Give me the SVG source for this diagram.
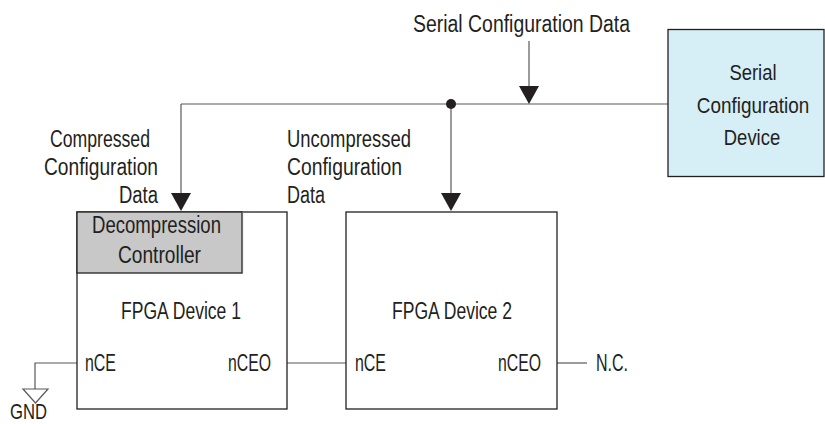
<svg xmlns="http://www.w3.org/2000/svg" width="825" height="424" viewBox="0 0 825 424">
<style>
text{font-family:"Liberation Sans",Arial,sans-serif;font-size:23.5px;fill:#231f20}
.mid{text-anchor:middle}
.dev{font-size:22px;text-anchor:middle}
.box{fill:#fff;stroke:#231f20;stroke-width:1.3}
.wire{fill:none;stroke:#58595b;stroke-width:1.2}
.arr{fill:#231f20}
</style>
<rect width="825" height="424" fill="#fff"/>
<g id="connectors">
  <path class="wire" d="M181,104 H668"/>
  <path class="wire" d="M181,104 V194"/>
  <polygon class="arr" points="171,193 191,193 181,211"/>
  <path class="wire" d="M451,104 V194"/>
  <polygon class="arr" points="441,193 461,193 451,211"/>
  <circle cx="451" cy="104" r="5" fill="#231f20"/>
  <path class="wire" d="M529,41 V87"/>
  <polygon class="arr" points="519,86 539,86 529,104"/>
  <path class="wire" d="M287,363 H346"/>
  <path class="wire" d="M557,363 H587"/>
  <path class="wire" d="M77,363 H35 V389"/>
  <polygon points="23,389 48,389 35.5,403" fill="#fff" stroke="#58595b" stroke-width="1.2"/>
</g>
<g id="label-serial-data">
  <text x="413" y="32" textLength="217" lengthAdjust="spacingAndGlyphs">Serial Configuration Data</text>
</g>
<g id="label-compressed">
  <text x="50" y="147" textLength="100" lengthAdjust="spacingAndGlyphs">Compressed</text>
  <text x="44" y="175" textLength="114" lengthAdjust="spacingAndGlyphs">Configuration</text>
  <text x="119" y="203" textLength="39" lengthAdjust="spacingAndGlyphs">Data</text>
</g>
<g id="label-uncompressed">
  <text x="287" y="147" textLength="124" lengthAdjust="spacingAndGlyphs">Uncompressed</text>
  <text x="287" y="175" textLength="115" lengthAdjust="spacingAndGlyphs">Configuration</text>
  <text x="287" y="203" textLength="38" lengthAdjust="spacingAndGlyphs">Data</text>
</g>
<g id="serial-config-device">
  <rect x="668" y="29.5" width="156" height="147" fill="#d6eef6" stroke="#231f20" stroke-width="1.3"/>
  <text class="dev" transform="translate(753,80) scale(0.84,1)">Serial</text>
  <text class="dev" transform="translate(753,113) scale(0.86,1)">Configuration</text>
  <text class="dev" transform="translate(752,145) scale(0.84,1)">Device</text>
</g>
<g id="fpga1">
  <rect class="box" x="77" y="212" width="210" height="197"/>
  <rect x="77" y="212" width="165" height="61" fill="#c8c8c8" stroke="#231f20" stroke-width="1.3"/>
  <line x1="242.5" y1="212" x2="242.5" y2="273.5" stroke="#6d6e71" stroke-width="1.2"/>
  <text x="92" y="233" textLength="129" lengthAdjust="spacingAndGlyphs">Decompression</text>
  <text x="118" y="263" textLength="83" lengthAdjust="spacingAndGlyphs">Controller</text>
  <text x="121" y="319" textLength="120" lengthAdjust="spacingAndGlyphs">FPGA Device 1</text>
  <text x="85" y="371" textLength="31" lengthAdjust="spacingAndGlyphs">nCE</text>
  <text x="228" y="371" textLength="43" lengthAdjust="spacingAndGlyphs">nCEO</text>
</g>
<g id="fpga2">
  <rect class="box" x="346" y="212" width="211" height="197"/>
  <text x="392" y="319" textLength="120" lengthAdjust="spacingAndGlyphs">FPGA Device 2</text>
  <text x="355" y="371" textLength="31" lengthAdjust="spacingAndGlyphs">nCE</text>
  <text x="498" y="371" textLength="43" lengthAdjust="spacingAndGlyphs">nCEO</text>
</g>
<g id="nc">
  <text x="596" y="371" textLength="32" lengthAdjust="spacingAndGlyphs">N.C.</text>
</g>
<g id="gnd">
  <text x="10" y="419" textLength="37" lengthAdjust="spacingAndGlyphs" style="font-size:22px">GND</text>
</g>
</svg>
